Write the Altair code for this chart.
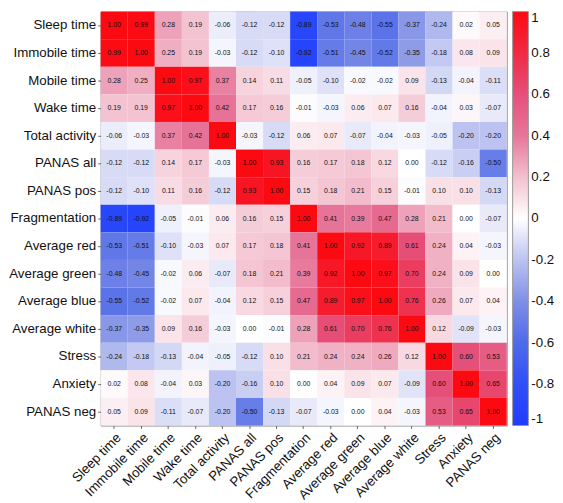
import altair as alt
import pandas as pd

labels = ["Sleep time", "Immobile time", "Mobile time", "Wake time", "Total activity",
          "PANAS all", "PANAS pos", "Fragmentation", "Average red", "Average green",
          "Average blue", "Average white", "Stress", "Anxiety", "PANAS neg"]

r_sleep = [1.00, 0.99, 0.28, 0.19, -0.06, -0.12, -0.12, -0.89, -0.53, -0.48, -0.55, -0.37, -0.24, 0.02, 0.05]
r_immobile = [0.99, 1.00, 0.25, 0.19, -0.03, -0.12, -0.10, -0.92, -0.51, -0.45, -0.52, -0.35, -0.18, 0.08, 0.09]
r_mobile = [0.28, 0.25, 1.00, 0.97, 0.37, 0.14, 0.11, -0.05, -0.10, -0.02, -0.02, 0.09, -0.13, -0.04, -0.11]
r_wake = [0.19, 0.19, 0.97, 1.00, 0.42, 0.17, 0.16, -0.01, -0.03, 0.06, 0.07, 0.16, -0.04, 0.03, -0.07]
r_total = [-0.06, -0.03, 0.37, 0.42, 1.00, -0.03, -0.12, 0.06, 0.07, -0.07, -0.04, -0.03, -0.05, -0.20, -0.20]
r_panas_all = [-0.12, -0.12, 0.14, 0.17, -0.03, 1.00, 0.93, 0.16, 0.17, 0.18, 0.12, 0.00, -0.12, -0.16, -0.50]
r_panas_pos = [-0.12, -0.10, 0.11, 0.16, -0.12, 0.93, 1.00, 0.15, 0.18, 0.21, 0.15, -0.01, 0.10, 0.10, -0.13]
r_frag = [-0.89, -0.92, -0.05, -0.01, 0.06, 0.16, 0.15, 1.00, 0.41, 0.39, 0.47, 0.28, 0.21, 0.00, -0.07]
r_red = [-0.53, -0.51, -0.10, -0.03, 0.07, 0.17, 0.18, 0.41, 1.00, 0.92, 0.89, 0.61, 0.24, 0.04, -0.03]
r_green = [-0.48, -0.45, -0.02, 0.06, -0.07, 0.18, 0.21, 0.39, 0.92, 1.00, 0.97, 0.70, 0.24, 0.09, 0.00]
r_blue = [-0.55, -0.52, -0.02, 0.07, -0.04, 0.12, 0.15, 0.47, 0.89, 0.97, 1.00, 0.76, 0.26, 0.07, 0.04]
r_white = [-0.37, -0.35, 0.09, 0.16, -0.03, 0.00, -0.01, 0.28, 0.61, 0.70, 0.76, 1.00, 0.12, -0.09, -0.03]
r_stress = [-0.24, -0.18, -0.13, -0.04, -0.05, -0.12, 0.10, 0.21, 0.24, 0.24, 0.26, 0.12, 1.00, 0.60, 0.53]
r_anxiety = [0.02, 0.08, -0.04, 0.03, -0.20, -0.16, 0.10, 0.00, 0.04, 0.09, 0.07, -0.09, 0.60, 1.00, 0.65]
r_panas_neg = [0.05, 0.09, -0.11, -0.07, -0.20, -0.50, -0.13, -0.07, -0.03, 0.00, 0.04, -0.03, 0.53, 0.65, 1.00]

rows = [r_sleep, r_immobile, r_mobile, r_wake, r_total, r_panas_all, r_panas_pos, r_frag,
        r_red, r_green, r_blue, r_white, r_stress, r_anxiety, r_panas_neg]

legend_ticks = [-1, -0.8, -0.6, -0.4, -0.2, 0, 0.2, 0.4, 0.6, 0.8, 1]

records = []
for i, row in enumerate(rows):
    for j, v in enumerate(row):
        records.append({"row": labels[i], "col": labels[j], "value": v,
                        "label": f"{v:.2f}"})
df = pd.DataFrame(records)

FONT = "Liberation Sans"
FS = 13.5

x_enc = alt.X("col:N", sort=labels, title=None,
              axis=alt.Axis(labelAngle=-45, labelAlign="right", labelBaseline="top",
                            labelFontSize=FS, labelFont=FONT, labelColor="#111",
                            tickSize=3, tickColor="#666", domain=False, labelPadding=2))
y_enc = alt.Y("row:N", sort=labels, title=None,
              axis=alt.Axis(labelFontSize=FS, labelFont=FONT, labelColor="#111",
                            tickSize=3, tickColor="#666", domain=False, labelPadding=2))

color_scale = alt.Scale(
    domain=[-1, -0.8, -0.6, -0.4, -0.2, 0, 0.2, 0.4, 0.6, 0.8, 1],
    range=["#1f3cff", "#3050f5", "#4f6aea", "#7f8fe5", "#bcc3f0", "#ffffff",
           "#f3c0cf", "#e6769a", "#e5507a", "#f02a44", "#fc0a12"],
    interpolate="rgb")

rects = alt.Chart(df).mark_rect().encode(
    x=x_enc,
    y=y_enc,
    color=alt.Color("value:Q", scale=color_scale,
                    legend=alt.Legend(title=None, values=legend_ticks, gradientLength=420,
                                      gradientThickness=16, labelFontSize=FS, labelFont=FONT,
                                      labelColor="#111", gradientStrokeColor="#999",
                                      gradientStrokeWidth=1, offset=6, labelOffset=3,
                                      labelExpr="replace(format(datum.value, '.1~f'), '−', '-')"))
)

texts = alt.Chart(df).mark_text(fontSize=7, font=FONT, color="#111").encode(
    x=alt.X("col:N", sort=labels),
    y=alt.Y("row:N", sort=labels),
    text="label:N"
)

chart = (rects + texts).properties(
    width=412, height=420, padding=0
).configure_view(stroke="#888", strokeWidth=1).configure_scale(bandPaddingInner=0)

chart.save("out.html", embed_options={"renderer": "svg", "actions": False})
